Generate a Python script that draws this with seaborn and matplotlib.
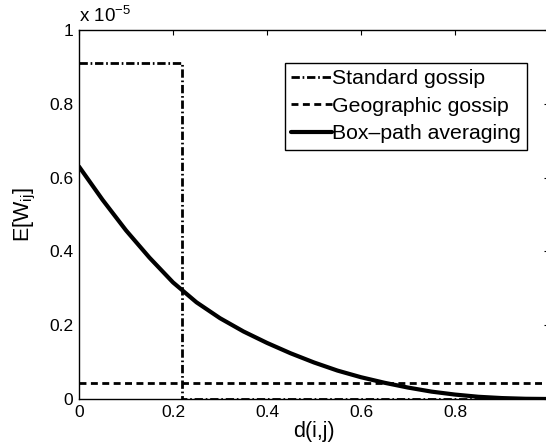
import numpy as np
import pandas as pd
import seaborn as sns
import matplotlib.pyplot as plt

# values (y in units of 1e-5)
std_d = [0.0, 0.22, 0.22, 1.0]
std_w = [0.91, 0.91, 0.0, 0.0]

geo_d = [0.0, 1.0]
geo_w = [0.043, 0.043]

box_d = [0.0, 0.05, 0.1, 0.15, 0.2, 0.25, 0.3, 0.35, 0.4, 0.45, 0.5,
         0.55, 0.6, 0.65, 0.7, 0.75, 0.8, 0.85, 0.9, 0.95, 1.0]
box_w = [0.63, 0.54, 0.457, 0.383, 0.316, 0.262, 0.219, 0.183, 0.152, 0.124, 0.099,
         0.077, 0.059, 0.044, 0.031, 0.020, 0.012, 0.006, 0.0025, 0.0006, 0.0]

x_ticks = [0, 0.2, 0.4, 0.6, 0.8, 1]
y_ticks = [0, 0.2, 0.4, 0.6, 0.8, 1]

sns.set_style("white")
plt.rcParams['font.family'] = ['Liberation Sans', 'DejaVu Sans']
plt.rcParams['mathtext.fontset'] = 'custom'
plt.rcParams['mathtext.rm'] = 'Liberation Sans'
plt.rcParams['mathtext.it'] = 'Liberation Sans:italic'
for key in ['text.color', 'axes.labelcolor', 'xtick.color', 'ytick.color']:
    plt.rcParams[key] = 'k'

fig = plt.figure(figsize=(5.46, 4.44), dpi=100)
ax = fig.add_axes([79 / 546, 45 / 444, 470 / 546, 369 / 444])

sns.lineplot(x=std_d, y=std_w, ax=ax, estimator=None, sort=False, color='k',
             lw=2, linestyle=(0, (3, 1, 0.6, 1)), label='Standard gossip')
sns.lineplot(x=geo_d, y=geo_w, ax=ax, estimator=None, sort=False, color='k',
             lw=2, linestyle=(0, (2.5, 1.6)), label='Geographic gossip')
sns.lineplot(x=box_d, y=box_w, ax=ax, estimator=None, sort=False, color='k',
             lw=3, linestyle='-', label='Box\u2013path averaging')

ax.set_xlim(0, 1)
ax.set_ylim(0, 1)
ax.set_xticks(x_ticks)
ax.set_yticks(y_ticks)
ax.set_xticklabels([f'{t:g}' for t in x_ticks])
ax.set_yticklabels([f'{t:g}' for t in y_ticks])
ax.tick_params(direction='in', length=3.5, width=0.8, top=True, right=True,
               labelsize=12.5, colors='k', pad=4)
for s in ax.spines.values():
    s.set_color('k')
    s.set_linewidth(1.0)

ax.set_xlabel('d(i,j)', fontsize=15.5, labelpad=1)
ax.set_ylabel('E[W$_{\\mathrm{ij}}$]', fontsize=15.5, labelpad=8)
ax.text(0.0, 1.01, 'x 10$^{\\mathrm{-5}}$', transform=ax.transAxes,
        fontsize=13.5, ha='left', va='bottom')

leg = ax.legend(loc='upper right', bbox_to_anchor=(0.953, 0.911),
                borderaxespad=0, fontsize=15.3, handlelength=1.9,
                handletextpad=0.0, labelspacing=0.4, borderpad=0.3,
                fancybox=False, framealpha=1, edgecolor='k')
leg.get_frame().set_linewidth(1.0)

fig.savefig('out.png', dpi=100)
